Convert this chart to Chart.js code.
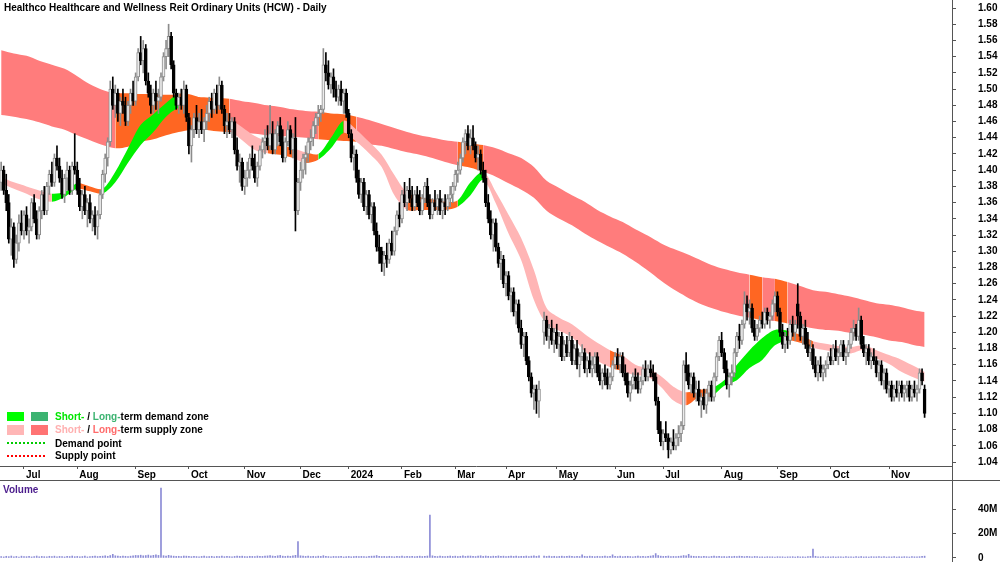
<!DOCTYPE html>
<html>
<head>
<meta charset="utf-8">
<script src="https://cdn.jsdelivr.net/npm/chart.js@4/dist/chart.umd.min.js"></script>
<style>
  html, body { margin: 0; padding: 0; background: #fff; }
  #wrap { position: relative; width: 1000px; height: 562px; overflow: hidden;
          font: bold 10px/12px 'Liberation Sans', Arial, sans-serif; color: #000; }
  #wrap canvas { position: absolute; left: 0; }
  .abs { position: absolute; white-space: nowrap; }
  .rule { position: absolute; background: #555; }
</style>
</head>
<body>
<div id="wrap">
  <canvas id="price" width="1000" height="481" style="top:0"></canvas>
  <canvas id="volume" width="1000" height="81" style="top:481px"></canvas>
  <div class="rule" style="left:0;top:480px;width:1000px;height:1px"></div>
  <div class="rule" style="left:952px;top:0;width:1px;height:562px"></div>

  <div class="abs" style="left:4px;top:1.5px">Healthco Healthcare and Wellness Reit Ordinary Units (HCW) - Daily</div>

  <div class="abs" style="left:7px;top:412px;width:17px;height:9px;background:#00ff00"></div>
  <div class="abs" style="left:31px;top:412px;width:17px;height:9px;background:#3cb371"></div>
  <div class="abs" style="left:55px;top:410.5px"><span style="color:#00e600">Short-</span> / <span style="color:#3cb371">Long-</span>term demand zone</div>
  <div class="abs" style="left:7px;top:425px;width:17px;height:10px;background:#ffb6b6"></div>
  <div class="abs" style="left:31px;top:425px;width:17px;height:10px;background:#ff7373"></div>
  <div class="abs" style="left:55px;top:424px"><span style="color:#ffb0b0">Short-</span> / <span style="color:#ff6b6b">Long-</span>term supply zone</div>
  <div class="abs" style="left:7px;top:442px;width:38px;height:2px;background:repeating-linear-gradient(90deg,#00cc00 0 2px,transparent 2px 4px)"></div>
  <div class="abs" style="left:55px;top:437.5px">Demand point</div>
  <div class="abs" style="left:7px;top:455px;width:38px;height:2px;background:repeating-linear-gradient(90deg,#ff0000 0 2px,transparent 2px 4px)"></div>
  <div class="abs" style="left:55px;top:450px">Supply point</div>

  <div class="abs" style="left:3px;top:484px;color:#4b1c8c">Volume</div>
</div>

<script>
// month ticks (trading-day index of first session of each month)
const monthStarts = [9, 30, 53, 74, 96, 118, 137, 158, 179, 199, 219, 242, 261, 284, 306, 327, 350];
const monthLabels = ['Jul', 'Aug', 'Sep', 'Oct', 'Nov', 'Dec', '2024', 'Feb', 'Mar', 'Apr', 'May', 'Jun', 'Jul', 'Aug', 'Sep', 'Oct', 'Nov'];
const priceTicks = [1.04, 1.06, 1.08, 1.10, 1.12, 1.14, 1.16, 1.18, 1.20, 1.22, 1.24, 1.26, 1.28, 1.30, 1.32,
  1.34, 1.36, 1.38, 1.40, 1.42, 1.44, 1.46, 1.48, 1.50, 1.52, 1.54, 1.56, 1.58, 1.60];
const volumeTicks = [0, 20, 40];

// daily bars
const opens = [
  1.385,1.40,1.375,1.36,1.315,1.33,1.29,1.31,1.335,1.325,
  1.345,1.325,1.33,1.36,1.34,1.32,1.35,1.37,1.35,1.38,
  1.395,1.385,1.415,1.405,1.39,1.37,1.39,1.40,1.375,1.405,
  1.40,1.375,1.355,1.37,1.35,1.36,1.34,1.345,1.33,1.345,
  1.37,1.395,1.415,1.435,1.50,1.48,1.495,1.47,1.485,1.48,
  1.46,1.48,1.495,1.485,1.515,1.545,1.535,1.55,1.51,1.495,
  1.48,1.495,1.485,1.49,1.515,1.54,1.55,1.565,1.53,1.495,
  1.48,1.49,1.48,1.50,1.465,1.43,1.45,1.465,1.45,1.46,
  1.45,1.46,1.47,1.485,1.475,1.495,1.48,1.505,1.475,1.455,
  1.46,1.45,1.46,1.425,1.405,1.41,1.38,1.39,1.40,1.415,
  1.405,1.39,1.405,1.425,1.435,1.44,1.43,1.445,1.425,1.445,
  1.455,1.435,1.415,1.435,1.45,1.425,1.44,1.35,1.385,1.40,
  1.415,1.42,1.435,1.44,1.455,1.465,1.47,1.475,1.53,1.52,
  1.505,1.515,1.50,1.49,1.50,1.485,1.495,1.47,1.445,1.415,
  1.42,1.39,1.37,1.385,1.355,1.37,1.345,1.355,1.325,1.305,
  1.30,1.285,1.295,1.29,1.31,1.30,1.325,1.345,1.34,1.37,
  1.36,1.375,1.365,1.355,1.37,1.36,1.35,1.365,1.38,1.36,
  1.345,1.36,1.355,1.365,1.35,1.36,1.355,1.365,1.37,1.38,
  1.395,1.40,1.415,1.435,1.445,1.43,1.44,1.43,1.415,1.42,
  1.40,1.39,1.36,1.34,1.32,1.335,1.305,1.285,1.29,1.26,
  1.27,1.245,1.25,1.225,1.235,1.205,1.185,1.195,1.165,1.145,
  1.125,1.13,1.115,null,1.20,1.215,1.195,1.205,1.19,1.20,
  1.185,1.195,1.17,1.185,1.175,1.19,1.165,1.18,1.16,1.17,
  1.175,1.155,1.165,1.155,1.16,1.17,1.15,1.14,1.15,1.145,
  1.135,1.145,1.16,1.17,1.16,1.17,1.15,1.14,1.125,1.135,
  1.145,1.14,1.13,1.14,1.155,1.145,1.155,1.15,1.145,1.115,
  1.08,1.065,1.075,1.07,1.055,1.065,1.06,1.07,1.075,1.085,
  1.16,1.15,1.135,1.145,1.125,1.13,1.115,1.12,1.11,1.125,
  1.135,1.12,1.145,1.17,1.19,1.175,1.155,1.135,1.145,1.15,
  1.175,1.195,1.19,1.21,1.235,1.225,1.23,1.205,1.195,1.205,
  1.215,1.21,1.225,1.215,1.22,1.235,1.245,1.225,1.20,1.185,
  1.195,1.19,1.21,1.20,1.235,1.22,1.195,1.205,1.185,1.175,
  1.18,1.16,1.15,1.16,1.15,1.155,1.16,1.17,1.165,1.18,
  1.17,1.175,1.185,1.17,1.175,1.185,1.20,1.205,1.195,1.215,
  1.185,1.175,1.18,1.165,1.17,1.165,1.15,1.16,1.14,1.15,
  1.13,1.135,1.12,1.13,1.125,1.135,1.125,1.13,1.135,1.12,
  1.13,1.125,1.13,1.15,1.13
];
const highs = [
  1.41,1.405,1.395,1.37,1.34,1.335,1.32,1.345,1.35,1.35,
  1.355,1.34,1.365,1.37,1.35,1.355,1.375,1.38,1.385,1.40,
  1.41,1.42,1.43,1.415,1.40,1.395,1.41,1.405,1.41,1.445,
  1.41,1.39,1.375,1.38,1.365,1.37,1.35,1.355,1.35,1.375,
  1.40,1.42,1.44,1.51,1.515,1.505,1.50,1.49,1.50,1.49,
  1.485,1.50,1.51,1.52,1.55,1.565,1.56,1.555,1.52,1.505,
  1.50,1.51,1.50,1.52,1.545,1.56,1.58,1.57,1.535,1.50,
  1.495,1.50,1.51,1.505,1.47,1.455,1.47,1.48,1.47,1.475,
  1.465,1.48,1.49,1.495,1.50,1.505,1.515,1.51,1.48,1.47,
  1.47,1.465,1.465,1.44,1.42,1.415,1.40,1.41,1.42,1.43,
  1.42,1.41,1.43,1.44,1.45,1.455,1.48,1.46,1.45,1.46,
  1.465,1.45,1.44,1.46,1.455,1.445,1.465,1.39,1.41,1.42,
  1.43,1.44,1.45,1.46,1.47,1.48,1.48,1.55,1.545,1.535,
  1.52,1.525,1.51,1.505,1.51,1.50,1.50,1.475,1.45,1.43,
  1.425,1.40,1.39,1.39,1.375,1.375,1.36,1.36,1.335,1.32,
  1.305,1.30,1.31,1.315,1.325,1.33,1.35,1.36,1.375,1.385,
  1.38,1.39,1.38,1.375,1.38,1.375,1.37,1.385,1.39,1.37,
  1.365,1.375,1.37,1.375,1.365,1.37,1.37,1.38,1.385,1.40,
  1.41,1.42,1.44,1.45,1.455,1.45,1.455,1.435,1.43,1.425,
  1.41,1.40,1.37,1.35,1.34,1.34,1.31,1.30,1.295,1.275,
  1.275,1.255,1.255,1.24,1.24,1.215,1.20,1.20,1.17,1.15,
  1.135,1.135,1.14,null,1.225,1.22,1.21,1.215,1.205,1.21,
  1.20,1.20,1.19,1.195,1.20,1.195,1.185,1.19,1.175,1.185,
  1.18,1.17,1.175,1.17,1.175,1.175,1.16,1.155,1.16,1.155,
  1.15,1.165,1.175,1.18,1.175,1.175,1.16,1.15,1.14,1.15,
  1.155,1.15,1.145,1.16,1.165,1.16,1.165,1.16,1.15,1.12,
  1.09,1.08,1.09,1.075,1.07,1.08,1.075,1.085,1.09,1.165,
  1.175,1.16,1.15,1.15,1.14,1.14,1.125,1.13,1.13,1.14,
  1.14,1.15,1.175,1.195,1.20,1.18,1.165,1.15,1.16,1.18,
  1.20,1.21,1.215,1.25,1.245,1.24,1.235,1.215,1.21,1.22,
  1.225,1.23,1.23,1.225,1.24,1.25,1.25,1.23,1.21,1.20,
  1.205,1.215,1.22,1.215,1.26,1.225,1.21,1.215,1.20,1.19,
  1.185,1.17,1.165,1.17,1.16,1.165,1.175,1.18,1.185,1.19,
  1.18,1.19,1.19,1.18,1.19,1.205,1.215,1.21,1.23,1.22,
  1.195,1.185,1.185,1.175,1.18,1.17,1.165,1.165,1.155,1.155,
  1.14,1.14,1.135,1.14,1.14,1.14,1.135,1.14,1.14,1.135,
  1.14,1.135,1.155,1.155,1.135
];
const lows = [
  1.375,1.37,1.35,1.31,1.295,1.28,1.285,1.30,1.32,1.315,
  1.32,1.31,1.325,1.335,1.315,1.315,1.34,1.345,1.345,1.37,
  1.38,1.38,1.40,1.385,1.365,1.36,1.375,1.37,1.37,1.395,
  1.37,1.35,1.34,1.345,1.33,1.335,1.325,1.32,1.315,1.34,
  1.365,1.385,1.405,1.43,1.475,1.465,1.46,1.455,1.47,1.455,
  1.455,1.47,1.48,1.48,1.51,1.53,1.52,1.505,1.49,1.47,
  1.47,1.475,1.47,1.485,1.51,1.525,1.54,1.525,1.49,1.475,
  1.47,1.475,1.47,1.46,1.42,1.41,1.44,1.445,1.44,1.445,
  1.435,1.45,1.46,1.465,1.47,1.47,1.475,1.47,1.445,1.44,
  1.445,1.44,1.42,1.40,1.385,1.375,1.37,1.38,1.39,1.40,
  1.385,1.38,1.40,1.415,1.42,1.425,1.425,1.42,1.42,1.43,
  1.43,1.41,1.41,1.43,1.42,1.415,1.325,1.345,1.375,1.39,
  1.395,1.41,1.425,1.43,1.445,1.455,1.46,1.47,1.51,1.50,
  1.495,1.49,1.485,1.48,1.48,1.47,1.465,1.44,1.41,1.40,
  1.385,1.365,1.36,1.35,1.345,1.34,1.335,1.32,1.30,1.285,
  1.275,1.27,1.28,1.285,1.295,1.295,1.32,1.33,1.335,1.355,
  1.35,1.36,1.35,1.35,1.355,1.345,1.345,1.36,1.355,1.34,
  1.34,1.35,1.345,1.345,1.34,1.345,1.35,1.355,1.36,1.375,
  1.385,1.395,1.41,1.42,1.425,1.42,1.425,1.41,1.40,1.395,
  1.385,1.355,1.335,1.315,1.30,1.30,1.28,1.265,1.255,1.245,
  1.24,1.225,1.22,1.21,1.20,1.18,1.17,1.16,1.14,1.12,
  1.105,1.10,1.095,null,1.185,1.19,1.18,1.185,1.175,1.18,
  1.17,1.165,1.165,1.17,1.17,1.16,1.16,1.155,1.145,1.165,
  1.15,1.145,1.15,1.145,1.15,1.145,1.135,1.13,1.135,1.13,
  1.13,1.14,1.155,1.155,1.15,1.145,1.135,1.12,1.115,1.13,
  1.13,1.125,1.125,1.135,1.14,1.14,1.145,1.14,1.11,1.075,
  1.06,1.055,1.065,1.045,1.05,1.055,1.055,1.06,1.065,1.08,
  1.14,1.13,1.125,1.12,1.115,1.11,1.095,1.105,1.10,1.115,
  1.115,1.115,1.14,1.165,1.17,1.15,1.13,1.12,1.135,1.145,
  1.17,1.18,1.185,1.205,1.215,1.21,1.20,1.19,1.19,1.20,
  1.205,1.205,1.21,1.205,1.215,1.225,1.22,1.195,1.18,1.175,
  1.18,1.185,1.195,1.19,1.205,1.19,1.185,1.18,1.17,1.165,
  1.155,1.145,1.14,1.145,1.14,1.145,1.155,1.16,1.16,1.165,
  1.16,1.17,1.165,1.16,1.17,1.18,1.19,1.19,1.19,1.18,
  1.17,1.16,1.16,1.155,1.16,1.145,1.14,1.135,1.13,1.125,
  1.12,1.115,1.115,1.12,1.115,1.12,1.115,1.12,1.115,1.115,
  1.12,1.115,1.125,1.135,1.095
];
const closes = [
  1.40,1.375,1.36,1.315,1.33,1.29,1.31,1.335,1.325,1.345,
  1.325,1.33,1.36,1.34,1.32,1.35,1.37,1.35,1.38,1.395,
  1.385,1.415,1.405,1.39,1.37,1.39,1.40,1.375,1.405,1.40,
  1.375,1.355,1.37,1.35,1.36,1.34,1.345,1.33,1.345,1.37,
  1.395,1.415,1.435,1.50,1.48,1.495,1.47,1.485,1.48,1.46,
  1.48,1.495,1.485,1.515,1.545,1.535,1.55,1.51,1.495,1.48,
  1.495,1.485,1.49,1.515,1.54,1.55,1.565,1.53,1.495,1.48,
  1.49,1.48,1.50,1.465,1.43,1.45,1.465,1.45,1.46,1.45,
  1.46,1.47,1.485,1.475,1.495,1.48,1.505,1.475,1.455,1.46,
  1.45,1.46,1.425,1.405,1.41,1.38,1.39,1.40,1.415,1.405,
  1.39,1.405,1.425,1.435,1.44,1.43,1.445,1.425,1.445,1.455,
  1.435,1.415,1.435,1.45,1.425,1.44,1.35,1.385,1.40,1.415,
  1.42,1.435,1.44,1.455,1.465,1.47,1.475,1.53,1.52,1.505,
  1.515,1.50,1.49,1.50,1.485,1.495,1.47,1.445,1.415,1.42,
  1.39,1.37,1.385,1.355,1.37,1.345,1.355,1.325,1.305,1.30,
  1.285,1.295,1.29,1.31,1.30,1.325,1.345,1.34,1.37,1.36,
  1.375,1.365,1.355,1.37,1.36,1.35,1.365,1.38,1.36,1.345,
  1.36,1.355,1.365,1.35,1.36,1.355,1.365,1.37,1.38,1.395,
  1.40,1.415,1.435,1.445,1.43,1.44,1.43,1.415,1.42,1.40,
  1.39,1.36,1.34,1.32,1.335,1.305,1.285,1.29,1.26,1.27,
  1.245,1.25,1.225,1.235,1.205,1.185,1.195,1.165,1.145,1.125,
  1.13,1.115,1.13,null,1.215,1.195,1.205,1.19,1.20,1.185,
  1.195,1.17,1.185,1.175,1.19,1.165,1.18,1.16,1.17,1.175,
  1.155,1.165,1.155,1.16,1.17,1.15,1.14,1.15,1.145,1.135,
  1.145,1.16,1.17,1.16,1.17,1.15,1.14,1.125,1.135,1.145,
  1.14,1.13,1.14,1.155,1.145,1.155,1.15,1.145,1.115,1.08,
  1.065,1.075,1.07,1.055,1.065,1.06,1.07,1.075,1.085,1.16,
  1.15,1.135,1.145,1.125,1.13,1.115,1.12,1.11,1.125,1.135,
  1.12,1.145,1.17,1.19,1.175,1.155,1.135,1.145,1.15,1.175,
  1.195,1.19,1.21,1.235,1.225,1.23,1.205,1.195,1.205,1.215,
  1.21,1.225,1.215,1.22,1.235,1.245,1.225,1.20,1.185,1.195,
  1.19,1.21,1.20,1.21,1.22,1.195,1.205,1.185,1.175,1.18,
  1.16,1.15,1.16,1.15,1.155,1.16,1.17,1.165,1.18,1.17,
  1.175,1.185,1.17,1.175,1.185,1.20,1.205,1.195,1.215,1.185,
  1.175,1.18,1.165,1.17,1.165,1.15,1.16,1.14,1.15,1.13,
  1.135,1.12,1.13,1.125,1.135,1.125,1.13,1.135,1.12,1.13,
  1.125,1.13,1.15,1.14,1.10
];
// volume, millions
const volumes = [
  1.2,0.9,1.4,1.1,1.6, 1.0,1.3,0.8,1.5,1.2, 1.1,1.4,0.9,1.2,1.6, 1.0,1.3,1.1,0.9,1.4,
  1.2,1.5,1.0,1.3,1.1, 0.9,1.4,1.2,1.6,1.1, 1.3,1.0,1.2,1.5,0.9, 1.1,1.4,1.6,1.2,1.3,
  1.5,1.8,1.4,2.0,3.0, 1.8,1.5,1.3,1.6,1.4, 1.2,1.5,1.7,2.1,1.9, 2.3,1.8,2.0,2.4,1.7,
  2.2,2.6,2.1,57,1.9, 1.6,2.2,1.8,1.5,1.3, 1.4,1.2,1.6,1.5,1.3, 1.1,1.4,1.2,1.0,1.3,
  1.5,1.1,1.2,1.4,1.0, 1.3,1.2,1.5,1.1,1.4, 1.2,1.0,1.3,1.6,1.4, 1.5,1.2,1.1,1.4,1.3,
  1.2,1.6,1.4,1.3,1.5, 1.7,2.0,1.6,1.4,1.8, 2.1,1.5,1.3,1.6,1.4, 1.7,2.2,13.3,1.8,1.5,
  1.3,1.6,1.2,1.4,1.1, 1.5,1.3,1.9,1.4,1.2, 1.0,1.3,1.1,1.2,1.4, 0.9,1.1,1.3,1.0,1.2,
  1.4,1.1,1.3,1.2,1.0, 1.3,1.5,1.6,2.0,1.4, 1.2,1.3,1.1,1.4,1.2, 1.0,1.3,1.2,1.5,1.1,
  1.3,1.2,1.4,1.1,1.3, 1.5,1.2,1.4,1.6,35, 1.8,1.4,1.2,1.5,1.3, 1.1,1.4,1.6,1.3,1.5,
  1.2,1.4,1.7,1.3,1.5, 1.6,1.4,1.2,1.5,1.8, 1.3,1.6,1.4,1.2,1.5, 1.3,1.7,1.4,1.5,1.2,
  1.4,1.6,1.3,1.5,1.2, 1.4,1.3,1.6,1.2,1.5, 1.7,1.4,1.8,null,1.6, 1.3,1.5,1.2,1.4,1.1,
  1.3,1.5,1.2,1.4,1.6, 1.3,1.1,1.4,1.2,2.5, 1.4,1.2,1.5,1.3,1.1, 1.4,1.2,1.3,1.5,1.2,
  1.4,2.6,1.3,1.2,1.5, 1.1,1.3,1.4,1.2,1.0, 1.3,1.5,1.2,1.4,1.1, 1.3,1.6,1.9,3.6,2.0,
  1.5,1.3,1.4,1.6,1.2, 1.3,1.1,1.4,1.5,2.0, 1.8,3.0,1.6,1.4,1.2, 1.3,1.1,1.4,1.2,1.0,
  1.3,1.5,1.2,1.4,1.1, 1.2,1.0,1.3,1.1,1.4, 1.2,1.5,1.3,1.1,1.4, 1.2,1.0,1.3,1.1,0.9,
  1.0,0.8,1.1,0.9,1.0, 0.8,1.1,0.9,1.0,0.8, 1.0,0.9,1.1,0.8,1.2, 0.9,1.0,0.8,1.1,1.3,
  7.3,1.4,1.0,0.9,1.1, 0.8,1.0,0.9,1.1,0.8, 1.0,0.9,0.8,1.1,0.9, 1.0,0.8,1.1,0.9,1.2,
  0.9,1.0,0.8,1.1,0.9, 1.0,1.2,0.9,1.1,0.8, 1.0,0.9,1.1,0.8,1.0, 0.9,1.1,1.0,0.8,1.2,
  1.0,0.9,1.1,1.3,1.5
];

// zone knots (trading-day index) and band edges
const zoneDays = [0,5,10,15,20,25,30,35,40,45,50,55,60,65,70,75,80,85,90,95,
  100,105,110,115,120,125,130,135,140,145,150,155,160,165,170,175,180,185,190,195,
  200,205,210,215,220,225,230,235,240,245,250,255,260,265,270,275,280,285,290,295,
  300,305,310,315,320,325,330,335,340,345,350,355,360,364];
const longTop = [
  1.548,1.544,1.541,1.535,1.530,1.525,1.516,1.506,1.499,1.495,
  1.495,1.494,1.494,1.493,1.493,1.491,1.490,1.489,1.488,1.485,
  1.483,1.480,1.478,1.475,1.473,1.472,1.470,1.469,1.466,1.462,
  1.457,1.452,1.447,1.443,1.440,1.437,1.435,1.433,1.431,1.427,
  1.421,1.415,1.404,1.387,1.378,1.369,1.361,1.351,1.343,1.336,
  1.327,1.319,1.310,1.303,1.297,1.290,1.283,1.278,1.274,1.271,
  1.268,1.266,1.262,1.257,1.252,1.250,1.247,1.244,1.240,1.236,
  1.234,1.231,1.227,1.225];
const longBottom = [
  1.468,1.466,1.463,1.459,1.454,1.450,1.443,1.437,1.431,1.427,
  1.429,1.435,1.438,1.443,1.447,1.450,1.450,1.448,1.447,1.446,
  1.445,1.443,1.442,1.441,1.440,1.438,1.437,1.436,1.435,1.432,
  1.430,1.426,1.422,1.419,1.415,1.410,1.406,1.403,1.398,1.392,
  1.384,1.376,1.366,1.350,1.340,1.332,1.322,1.313,1.305,1.297,
  1.287,1.276,1.264,1.253,1.244,1.236,1.230,1.225,1.221,1.218,
  1.215,1.214,1.211,1.208,1.205,1.203,1.202,1.199,1.197,1.194,
  1.190,1.188,1.184,1.182];
const longZone = [
  'L','L','L','L','L','L','L','L','L','O',
  'O','O','O','O','O','O','O','O','L','L',
  'L','L','L','L','L','O','O','O','L','L',
  'L','L','L','L','L','L','O','O','L','L',
  'L','L','L','L','L','L','L','L','L','L',
  'L','L','L','L','L','L','L','L','L','O',
  'L','O','L','L','L','L','L','L','L','L',
  'L','L','L','L'];
const shortTop = [
  1.392,1.385,1.380,1.375,1.371,1.373,1.384,1.380,1.377,1.398,
  1.427,1.456,1.469,1.483,1.494,1.493,1.487,1.478,1.464,1.453,
  1.442,1.435,1.431,1.427,1.422,1.420,1.440,1.461,1.450,1.435,
  1.419,1.394,1.372,1.367,1.364,1.361,1.363,1.385,1.398,1.373,
  1.345,1.316,1.277,1.230,1.218,1.210,1.198,1.187,1.178,1.171,
  1.160,1.155,1.146,1.133,1.126,1.129,1.131,1.141,1.160,1.178,
  1.193,1.203,1.202,1.197,1.189,1.186,1.183,1.182,1.184,1.178,
  1.172,1.166,1.158,1.151];
const shortBottom = [
  1.384,1.377,1.371,1.364,1.361,1.367,1.377,1.374,1.371,1.385,
  1.409,1.431,1.447,1.466,1.477,1.478,1.474,1.464,1.450,1.437,
  1.425,1.421,1.419,1.415,1.409,1.413,1.427,1.446,1.435,1.421,
  1.404,1.369,1.351,1.351,1.351,1.351,1.355,1.369,1.388,1.359,
  1.322,1.289,1.240,1.210,1.202,1.194,1.177,1.165,1.157,1.152,
  1.147,1.145,1.133,1.116,1.110,1.120,1.121,1.134,1.141,1.156,
  1.166,1.184,1.190,1.187,1.181,1.178,1.176,1.174,1.178,1.168,
  1.161,1.151,1.144,1.139];
const shortZone = [
  'P','P','P','P','G','G','O','O','G','G',
  'G','G','G','G','O','O','O','O','P','P',
  'P','O','O','P','O','G','G','P','P','P',
  'P','P','O','O','O','O','G','G','P','P',
  'P','P','P','P','P','P','P','P','O','P',
  'P','P','P','P','O','O','G','G','G','G',
  'G','G','O','O','P','P','P','P','P','P',
  'P','P','P','P'];

const zoneColors = { L: '#ff7c7c', O: '#ff6622', G: '#00f000', P: '#ffb5b5' };
const FONT = "'Liberation Sans', Arial, sans-serif";
Chart.defaults.font.family = FONT;
Chart.defaults.font.size = 10;
Chart.defaults.font.weight = 'bold';
Chart.defaults.color = '#000';

// x range chosen so the axis runs 0..952 px
const X_MIN = -0.46, X_MAX = 374.8;

const wicks = [], bodies = [];
closes.forEach((c, i) => {
  if (c === null) return;
  const up = c >= opens[i];
  wicks.push({ x: i, y: [lows[i], highs[i]], up });
  bodies.push({ x: i, y: [opens[i], c], up });
});

const edge = (vals) => zoneDays.map((d, k) => ({ x: d, y: vals[k] }));
const band = (vals, fill, zone, order) => ({
  type: 'line', data: edge(vals), fill, order,
  borderColor: 'transparent', borderWidth: 0, pointRadius: 0, tension: 0.3,
  backgroundColor: zoneColors[zone[0]],
  segment: { backgroundColor: ctx => zoneColors[zone[ctx.p0DataIndex]] }
});

const zeroPad = s => { s.paddingTop = 0; s.paddingBottom = 0; s.paddingLeft = 0; s.paddingRight = 0; };

new Chart(document.getElementById('price'), {
  type: 'bar',
  data: {
    datasets: [
      band(longTop, false, longZone, 5),
      band(longBottom, '-1', longZone, 5),
      band(shortTop, false, shortZone, 4),
      band(shortBottom, '-1', shortZone, 4),
      {
        data: wicks, order: 2, grouped: false, barThickness: 1, minBarLength: 1,
        backgroundColor: ctx => ctx.raw && ctx.raw.up ? '#8c8c8c' : '#000'
      },
      {
        data: bodies, order: 1, grouped: false, barThickness: 3, minBarLength: 1,
        borderWidth: 1, borderSkipped: false,
        backgroundColor: ctx => ctx.raw && ctx.raw.up ? '#ececec' : '#000',
        borderColor: ctx => ctx.raw && ctx.raw.up ? '#8c8c8c' : '#000'
      }
    ]
  },
  options: {
    responsive: false,
    animation: false,
    events: [],
    layout: { padding: 0 },
    plugins: { legend: { display: false }, tooltip: { enabled: false } },
    scales: {
      x: {
        type: 'linear', min: X_MIN, max: X_MAX, offset: false,
        afterBuildTicks: s => { s.ticks = monthStarts.map(v => ({ value: v })); },
        afterFit: s => { s.height = 15; zeroPad(s); },
        grid: { offset: false, drawOnChartArea: false, drawTicks: true, tickLength: 3, color: '#555' },
        border: { display: true, color: '#555' },
        ticks: {
          autoSkip: false, maxRotation: 0, align: 'start', labelOffset: 2, padding: 0,
          callback: (v, i) => monthLabels[i]
        }
      },
      y: {
        type: 'linear', position: 'right', min: 1.0351, max: 1.6099,
        afterBuildTicks: s => { s.ticks = priceTicks.map(v => ({ value: v })); },
        afterFit: s => { s.width = 48; zeroPad(s); },
        grid: { drawOnChartArea: false, drawTicks: true, tickLength: 4, color: '#555' },
        border: { display: true, color: '#555' },
        ticks: { padding: 22, crossAlign: 'near', callback: v => v.toFixed(2) }
      }
    }
  }
});

const volData = [];
volumes.forEach((v, i) => { if (v !== null) volData.push({ x: i, y: v }); });

new Chart(document.getElementById('volume'), {
  type: 'bar',
  data: {
    datasets: [{
      data: volData, grouped: false, barThickness: 1, minBarLength: 1,
      backgroundColor: 'rgb(140,140,214)'
    }]
  },
  options: {
    responsive: false,
    animation: false,
    events: [],
    layout: { padding: 0 },
    plugins: { legend: { display: false }, tooltip: { enabled: false } },
    scales: {
      x: { type: 'linear', min: X_MIN, max: X_MAX, offset: false, display: false, grid: { offset: false } },
      y: {
        type: 'linear', position: 'right', min: -3.27, max: 62.86,
        afterBuildTicks: s => { s.ticks = volumeTicks.map(v => ({ value: v })); },
        afterFit: s => { s.width = 48; zeroPad(s); },
        grid: { drawOnChartArea: false, drawTicks: true, tickLength: 4, color: '#555' },
        border: { display: true, color: '#555' },
        ticks: { padding: 22, crossAlign: 'near', callback: v => v === 0 ? '0' : v + 'M' }
      }
    }
  }
});
</script>
</body>
</html>
